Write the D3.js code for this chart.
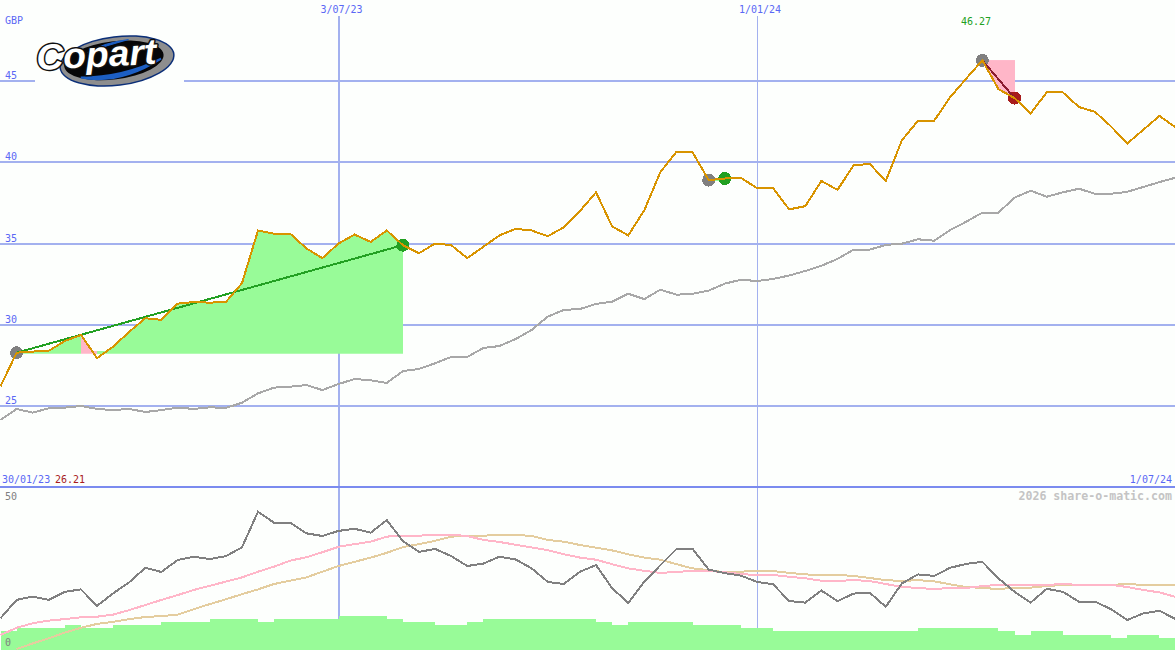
<!DOCTYPE html>
<html>
<head>
<meta charset="utf-8">
<script src="https://cdn.jsdelivr.net/npm/d3@7/dist/d3.min.js"></script>
<style>
html,body{margin:0;padding:0;background:#fdfffd;overflow:hidden}
svg{display:block}
text{font-family:"DejaVu Sans Mono",monospace;font-size:10px}
</style>
</head>
<body>
<svg id="chart" width="1175" height="650"></svg>
<script>
const firstWeek = "2023-02-06";
const firstLabel = "30/01/23";
const firstPrice = "26.21";
const lastLabel = "1/07/24";
const peakLabel = "46.27";
const currency = "GBP";
const credit = "2026 share-o-matic.com";
const logoName = "Copart";

const priceTicks = [25, 30, 35, 40, 45];
const dateTicks = ["2023-07-03", "2024-01-01"];
const oscTicks = [0, 50];

const price = [26.21,28.28,28.35,28.4,29.0,29.37,27.95,28.65,29.57,30.4,30.3,31.3,31.4,31.36,31.4,32.55,35.8,35.6,35.6,34.7,34.1,35.0,35.55,35.1,35.8,34.9,34.4,35.0,34.9,34.1,34.8,35.5,35.9,35.8,35.45,36.0,37.0,38.15,36.05,35.5,37.05,39.4,40.65,40.6,38.9,39.0,39.05,38.4,38.4,37.1,37.3,38.85,38.3,39.8,39.9,38.85,41.35,42.55,42.55,44.0,45.15,46.27,44.5,43.95,43.0,44.3,44.3,43.4,43.1,42.2,41.15,42.0,42.85,42.15];

const longAverage = [24.14,24.82,24.59,24.86,24.9,25.0,24.82,24.75,24.82,24.63,24.75,24.9,24.82,24.92,24.88,25.2,25.78,26.13,26.19,26.29,25.98,26.35,26.66,26.58,26.42,27.15,27.28,27.63,28.02,28.02,28.57,28.69,29.12,29.68,30.5,30.91,30.97,31.28,31.42,31.91,31.58,32.16,31.85,31.91,32.1,32.53,32.77,32.69,32.82,33.03,33.31,33.63,34.05,34.62,34.62,34.91,34.99,35.26,35.17,35.83,36.34,36.9,36.9,37.82,38.25,37.88,38.15,38.37,38.06,38.06,38.18,38.48,38.78,39.05];

const oscillator = [10.6,16.7,17.8,16.7,19.4,20.2,14.7,18.9,22.6,27.4,26,30,31.1,30.3,31.3,34.2,46.1,42.4,42.4,38.9,38,39.7,40.4,39.1,43.3,36.3,32.7,33.7,31.3,28,28.8,31.1,30.2,27.2,22.7,22,26.1,28.3,20.6,15.7,22.8,28.3,33.7,33.7,26.8,25.6,24.8,22.7,21.9,16.3,15.8,19.8,16.3,18.8,19.1,14.4,22.2,25.2,24.7,27.4,28.7,29.4,23.9,19.4,15.8,20.4,19.4,16.1,16.1,13.6,10,12.2,13.1,10.3];

const fastSignal = [5,7.4,8.9,9.8,10.3,10.9,11.1,11.8,13.3,15,16.7,18.3,20,21.4,22.8,24.2,26.1,27.8,29.8,30.9,32.6,34.4,35.3,36.1,37.8,38.1,38.1,38.4,38.4,38,36.7,36,35.1,34.2,33.3,31.9,30.8,30.1,28.6,27.2,26.4,25.7,26,26.4,26.4,25.9,25.3,25,25,24.4,23.9,23.1,23,23.3,23,22,21,20.7,20.3,20.7,20.7,21.3,21.7,21.7,21.7,21.7,22,21.7,21.7,21.7,21,20,19.2,17.7];

const slowSignal = [null,0.3,2.2,3.9,5.8,7.4,8.7,9.4,10.3,11,11.3,11.8,13.6,15.3,16.9,18.6,20.2,22,23.1,24.2,26.1,28,29.4,30.8,32.4,34.3,35.3,36.4,37.8,38,38.1,38.4,38.4,38,36.7,36.1,35,34.1,33.2,31.9,30.8,30.1,28.6,27.2,26.6,25.9,26.1,26.4,26.3,25.7,25.2,25,25,24.7,24,23.3,23,23.3,22.9,21.9,21,20.7,20.3,20.8,20.8,21.3,21.7,21.7,21.7,21.7,22,21.7,21.7,21.7];

const volume = [6.3,7.3,7.3,7.3,8.3,7.3,7.3,8.3,8.3,8.3,9.3,9.3,9.3,10.3,10.3,10.3,9.3,10.3,10.3,10.3,10.3,11.3,11.3,11.3,10.3,9.3,9.3,8.3,8.3,9.3,10.3,10.3,10.3,10.3,10.3,10.3,10.3,9.3,8.3,9.3,9.3,9.3,9.3,8.3,8.3,8.3,7.3,7.3,6.3,6.3,6.3,6.3,6.3,6.3,6.3,6.3,6.3,7.3,7.3,7.3,7.3,7.3,6.3,5,6.3,6.3,5,5,5,4,5,5,4];

const tradeEntries = [1, 44, 61];
const tradeExits = [25, 45, 63];

const cGrid = "#a3b1ef", cTop = "#7b8bef", cText = "#5a68f5", cOrange = "#d89400",
      cLong = "#a8a8a8", cOsc = "#808080", cPink = "#ffb6c8", cTan = "#e4cd9f",
      cFillGreen = "#98fb98", cGreen = "#22a022", cRed = "#a81c1c", cDarkRed = "#8c1c30", cDot = "#808080";

const W = 1175, H = 650;
const parse = d3.utcParse("%Y-%m-%d");
const start = parse(firstWeek);
const dates = price.map((_, i) => d3.utcMonday.offset(start, i));
const x = d3.scaleUtc().domain([dates[0], dates[dates.length - 1]]).range([0.5, W + 0.5]);
const y = d3.scaleLinear().domain([25, 45]).range([406, 81]);
const yLow = d3.scaleLinear().domain([0, 50]).range([650, 500]);

const svg = d3.select("#chart").attr("shape-rendering", "crispEdges");
svg.append("rect").attr("width", W).attr("height", H).attr("fill", "#fdfffd");

// horizontal grid
const gridAxis = d3.axisRight(y).tickValues(priceTicks).tickSize(W).offset(0).tickFormat(d3.format("d"));
const gGrid = svg.append("g").call(gridAxis);
gGrid.select(".domain").remove();
gGrid.selectAll(".tick line").attr("stroke", cGrid).attr("stroke-width", 2);
gGrid.selectAll(".tick text").attr("x", 5).attr("dy", "-2").attr("y", 0)
  .attr("dominant-baseline", "auto").attr("fill", cText).attr("font-size", 10)
  .style("font-family", '"DejaVu Sans Mono",monospace');

// vertical date grid
const dateAxis = d3.axisTop(x).tickValues(dateTicks.map(parse)).tickSize(-(H - 16)).offset(0).tickFormat(d3.utcFormat("%-d/%m/%y"));
const gDate = svg.append("g").attr("transform", "translate(0,16)").call(dateAxis);
gDate.select(".domain").remove();
gDate.selectAll(".tick line").attr("stroke", cGrid).attr("stroke-width", (d, i) => i === 0 ? 2 : 1);
gDate.selectAll(".tick text").attr("y", -3).attr("dx", 3).attr("dy", 0).attr("fill", cText)
  .attr("font-size", 10).style("font-family", '"DejaVu Sans Mono",monospace');

// top rule of lower panel
svg.append("line").attr("x1", 0).attr("x2", W).attr("y1", 487).attr("y2", 487)
  .attr("stroke", cTop).attr("stroke-width", 2);

// trade fills
const defs = svg.append("defs");
tradeEntries.forEach((entry, t) => {
  const exit = tradeExits[t];
  const base = y(price[entry]);
  const rising = price[exit] >= price[entry];
  const id = "clip" + t;
  const cp = defs.append("clipPath").attr("id", id);
  cp.append("rect").attr("x", 0).attr("width", W)
    .attr("y", rising ? 0 : base).attr("height", rising ? base + 1 : H);
  const g = svg.append("g").attr("clip-path", `url(#${id})`);
  const area = d3.area().x(i => x(dates[i])).y0(base).y1(i => y(price[i]));
  d3.range(entry, exit).forEach(k => {
    const color = price[k + 1] < price[entry] ? cPink : cFillGreen;
    g.append("path").attr("d", area([k, k + 1])).attr("fill", color);
    g.append("rect").attr("x", x(dates[k])).attr("width", x(dates[k + 1]) - x(dates[k]))
      .attr("y", rising ? base - 1.5 : base).attr("height", 2.5).attr("fill", color);
  });
});

// volume bars
svg.append("g").selectAll("rect").data(volume).join("rect")
  .attr("x", (d, i) => x(dates[i]))
  .attr("width", (d, i) => x(dates[i + 1]) - x(dates[i]))
  .attr("y", d => yLow(d))
  .attr("height", d => yLow(0) - yLow(d))
  .attr("fill", cFillGreen);

// lines
const lineOf = (scale) => d3.line().defined(d => d !== null).x((d, i) => x(dates[i])).y(d => scale(d));
const addLine = (data, scale, color) => svg.append("path").datum(data)
  .attr("d", lineOf(scale)).attr("fill", "none").attr("stroke", color).attr("stroke-width", 2);

addLine(longAverage, y, cLong);
addLine(slowSignal, yLow, cTan);
addLine(fastSignal, yLow, cPink);
addLine(oscillator, yLow, cOsc);

// trade markers under the price line
const gTrades = svg.append("g");
tradeEntries.forEach((entry, t) => {
  const exit = tradeExits[t];
  const win = price[exit] >= price[entry];
  gTrades.append("circle").attr("cx", x(dates[entry])).attr("cy", y(price[entry])).attr("r", 6.5).attr("fill", cDot);
  gTrades.append("circle").attr("cx", x(dates[exit])).attr("cy", y(price[exit])).attr("r", 6.5).attr("fill", win ? cGreen : cRed);
  gTrades.append("line").attr("x1", x(dates[entry])).attr("y1", y(price[entry]))
    .attr("x2", x(dates[exit])).attr("y2", y(price[exit]))
    .attr("stroke", win ? cGreen : cDarkRed).attr("stroke-width", 2);
});

addLine(price, y, cOrange);

// lower panel ticks
svg.append("g").selectAll("text").data(oscTicks).join("text")
  .attr("x", 5).attr("y", d => yLow(d) - (d === 0 ? 4 : 0))
  .attr("fill", "#808080").text(d => d);

// labels
const label = (px, py, txt, color, anchor) => svg.append("text").attr("x", px).attr("y", py)
  .attr("fill", color).attr("text-anchor", anchor || "start").text(txt);
label(5, 24, currency, cText);
label(976, 25, peakLabel, cGreen, "middle");
label(2, 483, firstLabel, cText);
label(55, 483, firstPrice, cRed);
label(1172, 483, lastLabel, cText, "end");
svg.append("text").attr("x", 1172).attr("y", 500).attr("text-anchor", "end")
  .attr("fill", "#c4c4c4").attr("font-weight", "bold")
  .style("font-size", "11.6px").text(credit);

// logo
const logo = svg.append("g").attr("shape-rendering", "auto");
logo.append("rect").attr("x", 35).attr("y", 34).attr("width", 149).attr("height", 56).attr("fill", "#fdfffd");
const oval = logo.append("g").attr("transform", "translate(117,61) rotate(-7)");
oval.append("ellipse").attr("rx", 58).attr("ry", 25).attr("fill", "#0b2f78");
oval.append("ellipse").attr("rx", 56.5).attr("ry", 23.5).attr("fill", "#8e8e8e");
oval.append("ellipse").attr("cx", -3).attr("cy", -1).attr("rx", 50).attr("ry", 19).attr("fill", "#060608");
oval.append("path").attr("d", "M-38,12 Q0,24 44,3 Q4,17 -38,12 Z").attr("fill", "#1d5fc4").attr("stroke", "#1d5fc4").attr("stroke-width", 2);
oval.append("path").attr("d", "M-28,-12 Q-10,-20 14,-20 Q-8,-17 -28,-12 Z").attr("fill", "#1d5fc4").attr("stroke", "#1d5fc4");
logo.append("text").attr("transform", "translate(37,70) rotate(-3)")
  .attr("textLength", 120).attr("lengthAdjust", "spacingAndGlyphs")
  .style("font-family", '"Liberation Sans",Arial,sans-serif').style("font-size", "36px")
  .style("font-style", "italic").style("font-weight", "bold")
  .attr("fill", "#ffffff").attr("stroke", "#101010").attr("stroke-width", 3)
  .attr("stroke-linejoin", "round")
  .attr("paint-order", "stroke").text(logoName);
</script>
</body>
</html>
